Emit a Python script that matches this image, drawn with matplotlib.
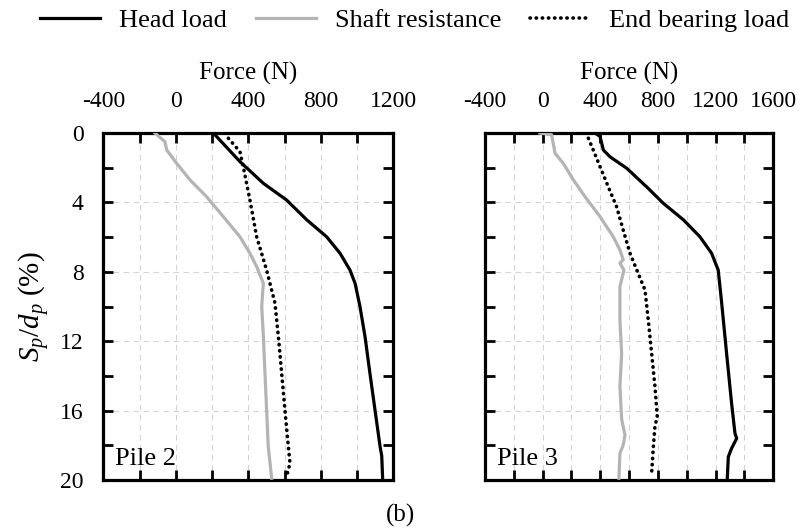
import matplotlib
matplotlib.use("Agg")
import matplotlib.pyplot as plt
from matplotlib.ticker import MultipleLocator, FuncFormatter

plt.rcParams['font.family'] = ['Liberation Serif', 'DejaVu Serif']
plt.rcParams['mathtext.fontset'] = 'custom'
plt.rcParams['mathtext.rm'] = 'Liberation Serif'
plt.rcParams['mathtext.it'] = 'Liberation Serif:italic'

# Pile 2 : settlement ratio (%) vs force (N)
p2_head_y = [0, 1.65, 2.9, 3.86, 5.0, 5.98, 6.93, 7.9, 8.66, 10.0, 11.74, 13.85, 15.97, 18.08, 18.6, 19.9]
p2_head_f = [207, 354, 483, 611, 722, 832, 906, 961, 989, 1016, 1044, 1071, 1099, 1127, 1136, 1141]

p2_shaft_y = [0, 0.5, 0.98, 1.75, 2.7, 3.67, 4.82, 5.98, 6.93, 7.7, 8.66, 10.0, 11.7, 13.85, 15.96, 18.06, 19.9]
p2_shaft_f = [-115, -60, -50, 5, 78, 170, 262, 354, 409, 446, 483, 474, 483, 492, 501, 510, 529]

p2_end_y = [0.3, 1.08, 1.94, 3.86, 5.98, 7.9, 9.8, 11.74, 13.85, 15.96, 18.08, 19.04, 19.8]
p2_end_f = [290, 354, 372, 409, 446, 501, 547, 566, 584, 602, 621, 630, 611]

# Pile 3
p3_head_y = [0, 0.2, 0.98, 1.37, 2.03, 3.1, 4.05, 5.0, 5.98, 6.93, 7.9, 9.8, 12.7, 15.6, 17.3, 17.6, 18.17, 18.66, 19.9]
p3_head_f = [363, 398, 421, 467, 583, 721, 837, 976, 1091, 1172, 1218, 1242, 1276, 1311, 1334, 1346, 1311, 1288, 1281]

p3_shaft_y = [0, 0.1, 1.17, 1.75, 2.7, 3.67, 4.82, 5.98, 6.74, 7.3, 7.5, 7.9, 8.86, 10.8, 12.7, 14.6, 16.5, 17.4, 17.98, 18.46, 19.9]
p3_shaft_f = [-19, 62, 86, 143, 213, 294, 398, 490, 536, 559, 536, 564, 536, 536, 548, 536, 548, 571, 559, 536, 529]

p3_end_y = [0.3, 0.98, 1.94, 3.1, 4.25, 5.6, 6.93, 8.1, 9.05, 10.8, 12.7, 14.6, 16.35, 16.9, 18.08, 19.6]
p3_end_f = [317, 351, 398, 455, 513, 559, 606, 663, 710, 733, 756, 779, 795, 779, 768, 756]

piles = [
    ("Pile 2", (-400, 1200), p2_head_f, p2_head_y, p2_shaft_f, p2_shaft_y, p2_end_f, p2_end_y),
    ("Pile 3", (-400, 1600), p3_head_f, p3_head_y, p3_shaft_f, p3_shaft_y, p3_end_f, p3_end_y),
]

fig = plt.figure(figsize=(8.05, 5.31), dpi=100)
ax_left = fig.add_axes([0.1283, 0.096, 0.3603, 0.6535])
ax_right = fig.add_axes([0.6025, 0.096, 0.3581, 0.6535])

def lbl(v, pos):
    return f"{int(v)}" if int(v) % 400 == 0 else ""

for ax, (name, xlim, hf, hy, sf, sy, ef, ey) in zip([ax_left, ax_right], piles):
    ax.plot(hf, hy, color='black', lw=2.3, label='Head load', zorder=3)
    ax.plot(sf, sy, color='#b4b4b4', lw=2.3, label='Shaft resistance', zorder=3)
    ax.plot(ef, ey, color='black', lw=2.6, linestyle=(0, (0.1, 1.6)),
            dash_capstyle='round', label='End bearing load', zorder=3)

    ax.set_xlim(*xlim)
    ax.set_ylim(20, 0)
    ax.xaxis.set_major_locator(MultipleLocator(200))
    ax.xaxis.set_major_formatter(FuncFormatter(lbl))
    ax.yaxis.set_major_locator(MultipleLocator(4))
    ax.yaxis.set_minor_locator(MultipleLocator(2))
    ax.xaxis.set_ticks_position('top')
    ax.xaxis.set_label_position('top')
    ax.set_xlabel('Force (N)', fontsize=18, labelpad=8)
    ax.tick_params(which='both', direction='in', top=True, bottom=True, left=True, right=True,
                   length=7, width=2, labelsize=17)
    ax.tick_params(axis='x', pad=15)
    ax.tick_params(axis='y', pad=14)
    ax.grid(True, which='major', color='#d4d4d4', lw=0.8, linestyle=(0, (5, 4)), zorder=0)
    for sp in ax.spines.values():
        sp.set_linewidth(2.3)
    ax.text(0.04, 0.06, name, transform=ax.transAxes, fontsize=19, va='center', ha='left')

ax_right.tick_params(axis='y', labelleft=False)
ax_left.set_ylabel('$S_p/d_p$ (%)', fontsize=21, labelpad=6)

handles, labels = ax_left.get_legend_handles_labels()
fig.legend(handles, labels, loc='center', bbox_to_anchor=(0.515, 0.962), ncol=3, frameon=False,
           fontsize=19, handlelength=2.3, handletextpad=0.7, columnspacing=1.1)

fig.text(0.497, 0.03, '(b)', fontsize=18, ha='center', va='center')

fig.savefig('out.png', dpi=100)
